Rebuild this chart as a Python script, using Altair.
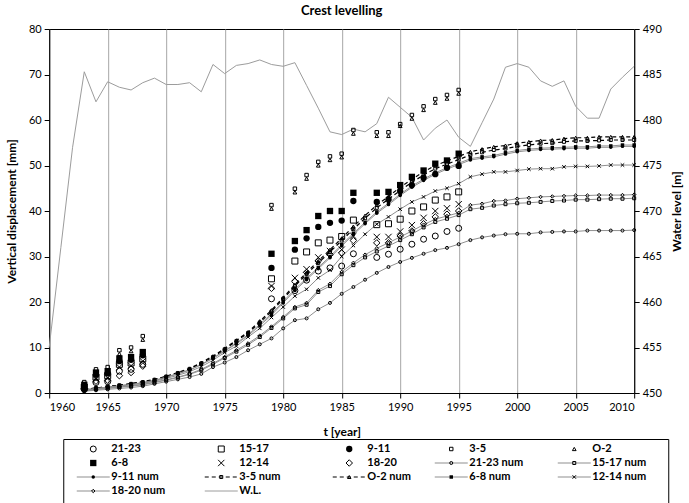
import altair as alt
import pandas as pd

# ---------------------------------------------------------------- data
# survey campaigns (year) and measured crest settlement [mm] per block group
years_meas = [1963, 1964, 1965, 1966, 1967, 1968, 1979, 1981, 1982, 1983, 1984,
              1985, 1986, 1988, 1989, 1990, 1991, 1992, 1993, 1994, 1995]
meas_21_23 = [0.8, 2.3, 2.5, 4.8, 5.2, 6.3, 20.7, 22.5, 24.8, 26.8, 27.5,
              27.9, 30.6, 29.8, 30.5, 31.6, 32.7, 33.8, 34.5, 35.5, 36.2]
meas_15_17 = [1.3, 3.5, 3.8, 6.3, 6.6, 7.5, 25.1, 29.0, 31.0, 33.0, 33.6,
              34.4, 38.0, 37.0, 37.2, 38.2, 40.0, 40.9, 42.4, 43.1, 44.2]
meas_9_11 = [1.5, 4.0, 4.3, 7.0, 7.3, 8.3, 27.5, 31.5, 34.0, 36.5, 37.4,
             37.9, 42.2, 42.0, 42.6, 44.4, 45.7, 47.3, 48.1, 49.5, 49.9]
meas_3_5 = [2.4, 5.2, 5.7, 9.4, 10.0, 12.5, 41.3, 44.9, 47.9, 50.8, 52.0,
            52.6, 57.8, 57.3, 57.3, 59.1, 61.1, 63.0, 64.6, 65.5, 66.6]
meas_o_2 = [1.7, 4.4, 4.9, 8.6, 9.2, 11.7, 40.5, 44.1, 47.1, 50.0, 51.2,
            51.8, 57.0, 56.5, 56.5, 58.7, 60.3, 62.2, 63.8, 64.7, 65.8]
meas_6_8 = [1.8, 4.5, 4.8, 7.6, 7.9, 9.0, 30.6, 33.4, 35.8, 38.9, 40.0,
            40.0, 44.0, 44.0, 44.2, 45.7, 47.5, 48.9, 50.4, 51.1, 52.6]
meas_12_14 = [1.2, 3.0, 3.3, 5.7, 6.0, 7.0, 23.5, 25.3, 27.2, 29.8, 31.2,
              31.5, 34.5, 34.3, 34.3, 35.5, 36.9, 38.5, 40.0, 40.6, 41.5]
meas_18_20 = [1.0, 2.6, 2.8, 3.8, 4.5, 5.9, 23.0, 24.5, 26.5, 29.0, 30.4,
              30.8, 33.5, 33.0, 33.0, 34.5, 35.6, 37.2, 38.7, 39.3, 40.0]

# numerical model results, yearly 1963-2010 [mm]
years_num = list(range(1963, 2011))
num_21_23 = [0.4, 0.6, 0.8, 1.0, 1.2, 1.5, 2.0, 2.5, 3.0, 3.5, 4.2, 5.7, 6.7, 7.9,
             9.4, 10.7, 12.0, 14.2, 16.0, 16.4, 18.4, 19.8, 21.8, 23.3, 24.9, 26.4,
             27.7, 28.8, 29.7, 30.6, 31.4, 31.9, 32.7, 33.6, 34.2, 34.6, 34.9, 35.0,
             35.0, 35.3, 35.4, 35.5, 35.5, 35.7, 35.7, 35.7, 35.7, 35.8]
num_15_17 = [0.5, 0.8, 1.0, 1.3, 1.5, 1.8, 2.3, 2.8, 3.4, 4.1, 5.0, 6.3, 7.7, 9.1,
             10.6, 12.3, 14.3, 16.4, 18.6, 19.4, 22.2, 23.5, 26.1, 28.1, 29.8, 31.1,
             32.3, 33.6, 34.9, 36.4, 37.6, 38.3, 39.1, 40.4, 40.7, 41.2, 41.5, 41.7,
             41.8, 42.0, 42.2, 42.3, 42.5, 42.5, 42.6, 42.7, 42.7, 42.8]
num_9_11 = [0.7, 1.0, 1.3, 1.6, 1.9, 2.2, 2.7, 3.4, 4.2, 5.0, 6.2, 7.6, 9.2, 10.8,
            12.6, 14.8, 17.1, 19.8, 22.5, 24.9, 27.3, 29.7, 32.3, 34.8, 37.2, 39.5,
            41.4, 43.4, 45.2, 46.7, 48.1, 49.2, 50.2, 51.2, 51.6, 51.9, 52.5, 53.0,
            53.3, 53.5, 53.6, 53.7, 53.8, 53.8, 54.0, 54.0, 54.2, 54.2]
num_3_5 = [0.8, 1.1, 1.4, 1.7, 2.0, 2.4, 2.9, 3.6, 4.4, 5.3, 6.5, 7.9, 9.6, 11.4,
           13.2, 15.5, 17.9, 20.7, 23.5, 26.1, 28.6, 31.0, 33.5, 36.0, 38.4, 40.7,
           42.6, 44.5, 46.3, 47.9, 49.3, 50.3, 51.3, 52.3, 52.9, 53.4, 53.7, 54.2,
           54.5, 54.8, 54.9, 55.2, 55.4, 55.4, 55.5, 55.6, 55.6, 55.6]
num_o_2 = [0.8, 1.1, 1.4, 1.7, 2.1, 2.5, 3.0, 3.7, 4.5, 5.4, 6.7, 8.1, 9.8, 11.6,
           13.4, 15.8, 18.2, 21.0, 23.8, 26.5, 29.0, 31.5, 34.0, 36.6, 39.0, 41.3,
           43.2, 45.2, 47.0, 48.6, 50.0, 51.0, 52.0, 53.0, 53.6, 54.1, 54.4, 54.9,
           55.2, 55.5, 55.6, 55.9, 56.1, 56.1, 56.3, 56.3, 56.3, 56.3]
num_6_8 = [0.7, 1.0, 1.3, 1.6, 1.9, 2.3, 2.8, 3.5, 4.3, 5.1, 6.3, 7.7, 9.3, 11.0,
           12.8, 15.1, 17.4, 20.1, 22.8, 25.2, 27.6, 30.0, 32.6, 35.1, 37.5, 39.8,
           41.7, 43.7, 45.5, 47.0, 48.4, 49.5, 50.5, 51.5, 51.9, 52.2, 52.8, 53.3,
           53.6, 53.8, 53.9, 54.0, 54.1, 54.1, 54.3, 54.3, 54.5, 54.5]
num_12_14 = [0.6, 0.9, 1.2, 1.5, 1.8, 2.1, 2.6, 3.2, 3.9, 4.7, 5.8, 7.2, 8.9, 10.3,
             12.3, 14.2, 16.6, 18.9, 21.3, 22.8, 25.3, 27.0, 30.0, 32.4, 34.9, 37.1,
             38.7, 40.4, 42.0, 43.1, 44.4, 45.0, 46.0, 47.5, 48.1, 48.6, 48.6, 48.9,
             49.2, 49.3, 49.3, 49.7, 49.8, 49.8, 49.9, 50.1, 50.1, 50.1]
num_18_20 = [0.5, 0.8, 1.1, 1.3, 1.6, 1.9, 2.4, 2.9, 3.5, 4.2, 5.2, 6.5, 7.9, 9.4,
             10.9, 12.6, 14.6, 16.7, 18.9, 19.8, 22.6, 24.0, 26.6, 28.6, 30.4, 31.8,
             33.0, 34.3, 35.6, 37.0, 38.2, 38.9, 39.6, 41.3, 41.6, 42.2, 42.3, 42.7,
             42.9, 43.1, 43.2, 43.3, 43.4, 43.4, 43.5, 43.5, 43.5, 43.6]

# reservoir water level [m a.s.l.], yearly 1960-2010
years_wl = list(range(1960, 2011))
water_level = [455.0, 466.0, 477.0, 485.3, 482.0, 484.2, 483.6, 483.3, 484.1, 484.6,
               483.9, 483.9, 484.1, 483.1, 486.1, 485.1, 486.0, 486.2, 486.6, 486.1,
               485.9, 486.3, 483.8, 481.3, 478.7, 478.4, 479.0, 478.7, 479.6, 482.5,
               481.4, 480.3, 477.8, 479.1, 480.0, 478.1, 477.1, 479.7, 482.3, 485.8,
               486.2, 485.8, 484.3, 483.7, 484.3, 481.5, 480.2, 480.2, 483.4, 484.7,
               485.9]

# ---------------------------------------------------------------- styles
FONT = "Lato"
GREY_LINE = "#8f8f8f"
XPATH = "M-1,-1L1,1M-1,1L1,-1"
DASH = [4, 3]

series = [
    ("21-23", years_meas, meas_21_23, dict(kind="meas", shape="circle", filled=False, size=36)),
    ("15-17", years_meas, meas_15_17, dict(kind="meas", shape="square", filled=False, size=36)),
    ("9-11", years_meas, meas_9_11, dict(kind="meas", shape="circle", filled=True, size=40)),
    ("3-5", years_meas, meas_3_5, dict(kind="meas", shape="square", filled=False, size=12)),
    ("O-2", years_meas, meas_o_2, dict(kind="meas", shape="triangle-up", filled=False, size=14)),
    ("6-8", years_meas, meas_6_8, dict(kind="meas", shape="square", filled=True, size=40)),
    ("12-14", years_meas, meas_12_14, dict(kind="meas", shape=XPATH, filled=False, size=40)),
    ("18-20", years_meas, meas_18_20, dict(kind="meas", shape="diamond", filled=False, size=42)),
    ("21-23 num", years_num, num_21_23, dict(kind="num", shape="circle", filled=False, size=9, line=GREY_LINE)),
    ("15-17 num", years_num, num_15_17, dict(kind="num", shape="square", filled=False, size=9, line=GREY_LINE)),
    ("9-11 num", years_num, num_9_11, dict(kind="num", shape="circle", filled=True, size=12, line=GREY_LINE)),
    ("3-5 num", years_num, num_3_5, dict(kind="num", shape="square", filled=False, size=9, line="black", dash=DASH)),
    ("O-2 num", years_num, num_o_2, dict(kind="num", shape="triangle-up", filled=False, size=12, line="black", dash=DASH)),
    ("6-8 num", years_num, num_6_8, dict(kind="num", shape="square", filled=True, size=12, line=GREY_LINE)),
    ("12-14 num", years_num, num_12_14, dict(kind="num", shape=XPATH, filled=False, size=12, line=GREY_LINE)),
    ("18-20 num", years_num, num_18_20, dict(kind="num", shape="diamond", filled=False, size=12, line=GREY_LINE)),
    ("W.L.", years_wl, water_level, dict(kind="wl", line="#9c9c9c")),
]


def line_mark(st):
    kw = dict(color=st["line"], strokeWidth=1.2 if "dash" in st else 1)
    if "dash" in st:
        kw["strokeDash"] = st["dash"]
    return alt.Chart().mark_line(**kw)


def point_mark(st):
    return alt.Chart().mark_point(shape=st["shape"], filled=st["filled"], size=st["size"],
                                  color="black", strokeWidth=1, opacity=1)


# ---------------------------------------------------------------- main plot
X = alt.X("t:Q", scale=alt.Scale(domain=[1960, 2010], nice=False, zero=False),
          axis=alt.Axis(values=list(range(1960, 2011, 5)), format="d", title="t [year]",
                        titlePadding=14))
Y_MM = alt.Y("v:Q", scale=alt.Scale(domain=[0, 80], nice=False),
             axis=alt.Axis(values=list(range(0, 81, 10)), title="Vertical displacement [mm]",
                           titlePadding=10))
Y_WL = alt.Y("wl:Q", scale=alt.Scale(domain=[450, 490], nice=False, zero=False),
             axis=alt.Axis(orient="right", values=list(range(450, 491, 5)), grid=False,
                           title="Water level [m]", titleAngle=270, titleBaseline="top",
                           titlePadding=10))

mm_layers = []
wl_layer = None
for name, yrs, vals, st in series:
    if st["kind"] == "wl":
        df = pd.DataFrame({"t": yrs, "wl": vals})
        wl_layer = line_mark(st).properties(data=df).encode(x=X, y=Y_WL)
        continue
    df = pd.DataFrame({"t": yrs, "v": vals})
    if st["kind"] == "num":
        mm_layers.append(line_mark(st).properties(data=df).encode(x=X, y=Y_MM))
    mm_layers.append(point_mark(st).properties(data=df).encode(x=X, y=Y_MM))

# numerical curves under the measured symbols
num_first = [c for c in mm_layers if c.mark.type == "line"] + \
            [c for c in mm_layers if c.mark.type != "line"]

main = alt.layer(wl_layer, alt.layer(*num_first)).resolve_scale(y="independent").properties(
    width=585, height=364,
    title=alt.Title("Crest levelling", fontSize=13, fontWeight="bold", font=FONT,
                    anchor="middle", frame="group", offset=5, color="black"),
)

# ---------------------------------------------------------------- legend box
# legend laid out on a 605 x 66 px framed panel: symbol column centres, rows
LEG_W, LEG_H = 605, 66
LEG_COLS = [30, 158, 286, 388, 511]
LEG_TEXT_GAP, LEG_SEG = 18, 16.5
LEG_ROW0, LEG_ROW_STEP = 10, 14
LX = alt.Scale(domain=[0, LEG_W], nice=False, zero=False)
LY = alt.Scale(domain=[0, LEG_H], nice=False, zero=False, reverse=True)

leg_layers = []
text_rows = []
for i, (name, _, _, st) in enumerate(series):
    cx = LEG_COLS[i % 5]
    ry = LEG_ROW0 + LEG_ROW_STEP * (i // 5)
    text_rows.append({"c": cx + LEG_TEXT_GAP, "r": ry, "label": name})
    if st["kind"] in ("num", "wl"):
        seg = pd.DataFrame({"c": [cx - LEG_SEG, cx + LEG_SEG], "r": [ry, ry]})
        leg_layers.append(line_mark(st).properties(data=seg).encode(
            x=alt.X("c:Q", scale=LX, axis=None), y=alt.Y("r:Q", scale=LY, axis=None)))
    if st["kind"] in ("num", "meas"):
        pt = pd.DataFrame({"c": [cx], "r": [ry]})
        leg_layers.append(point_mark(st).properties(data=pt).encode(
            x=alt.X("c:Q", scale=LX, axis=None), y=alt.Y("r:Q", scale=LY, axis=None)))

leg_text = alt.Chart(pd.DataFrame(text_rows)).mark_text(
    align="left", baseline="middle", font=FONT, fontSize=11, fontWeight="bold", color="black"
).encode(x=alt.X("c:Q", scale=LX, axis=None), y=alt.Y("r:Q", scale=LY, axis=None),
         text="label:N")

legend = alt.layer(*leg_layers, leg_text).properties(width=LEG_W, height=LEG_H)

chart = alt.vconcat(main, legend, center=True, spacing=0).properties(
    padding={"left": 4, "top": 4, "right": 4, "bottom": 0}
).configure_axis(
    labelFont=FONT, labelFontSize=11, labelColor="black",
    titleFont=FONT, titleFontSize=12, titleFontWeight="bold", titleColor="black",
    domainColor="black", tickColor="black", tickSize=5, gridColor="#a6a6a6",
    labelPadding=3,
).configure_view(stroke="black", strokeWidth=1)

chart.save("out.html", embed_options={"renderer": "svg", "actions": False})
